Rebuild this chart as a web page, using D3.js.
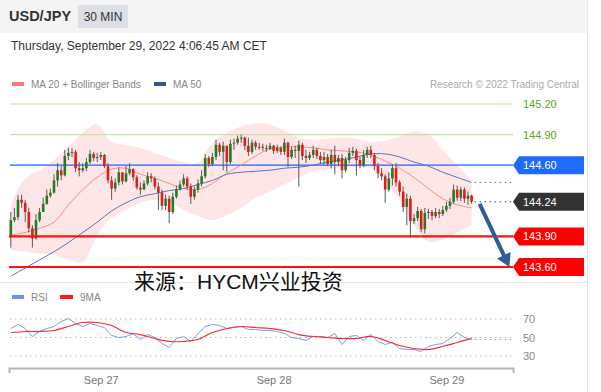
<!DOCTYPE html>
<html>
<head>
<meta charset="utf-8">
<script src="https://d3js.org/d3.v7.min.js"></script>
<style>
	body { margin: 0; background: #fff; font-family: "Liberation Sans", Arial, sans-serif; }
	svg text { font-family: "Liberation Sans", Arial, sans-serif; }
</style>
</head>
<body>
<div id="chart"></div>
<script>
	// ----- Data -----
	// 30 min candles, first one Sep 26 11:30, open of each = previous close
	const firstOpen = 143.89
	const closes = [144.06,144.09,144.26,144.23,144.14,143.98,143.88,144.06,144.14,144.22,
		144.30,144.33,144.45,144.55,144.50,144.69,144.72,144.73,144.57,144.55,
		144.57,144.63,144.71,144.67,144.68,144.70,144.59,144.45,144.37,144.43,
		144.53,144.44,144.52,144.56,144.48,144.38,144.36,144.42,144.49,144.47,
		144.39,144.33,144.20,144.27,144.14,144.29,144.36,144.41,144.47,144.39,
		144.29,144.36,144.42,144.49,144.67,144.61,144.68,144.80,144.73,144.79,
		144.63,144.81,144.82,144.86,144.87,144.79,144.73,144.82,144.78,144.78,
		144.77,144.76,144.79,144.74,144.77,144.73,144.82,144.68,144.75,144.74,
		144.80,144.69,144.67,144.70,144.75,144.69,144.65,144.68,144.61,144.70,
		144.63,144.67,144.55,144.65,144.72,144.74,144.65,144.60,144.70,144.75,
		144.70,144.59,144.52,144.49,144.36,144.47,144.57,144.43,144.34,144.19,
		144.27,144.05,144.08,144.15,143.97,144.13,144.14,144.10,144.14,144.12,
		144.16,144.20,144.24,144.36,144.28,144.36,144.27,144.30,144.24]
	const highs = [144.14,144.18,144.31,144.31,144.26,144.18,144.01,144.12,144.18,144.28,
		144.36,144.37,144.51,144.62,144.59,144.75,144.77,144.77,144.75,144.63,
		144.62,144.67,144.75,144.73,144.72,144.73,144.71,144.62,144.49,144.47,
		144.58,144.53,144.59,144.62,144.57,144.50,144.43,144.45,144.53,144.52,
		144.49,144.43,144.36,144.31,144.30,144.33,144.40,144.45,144.51,144.49,
		144.42,144.39,144.46,144.55,144.71,144.69,144.72,144.85,144.82,144.83,
		144.79,144.85,144.86,144.89,144.90,144.88,144.87,144.85,144.84,144.82,
		144.81,144.80,144.82,144.80,144.80,144.78,144.86,144.83,144.78,144.79,
		144.84,144.82,144.75,144.73,144.79,144.77,144.73,144.73,144.71,144.75,
		144.79,144.70,144.71,144.68,144.77,144.78,144.76,144.68,144.75,144.78,
		144.79,144.72,144.62,144.57,144.51,144.53,144.61,144.62,144.45,144.39,
		144.32,144.30,144.12,144.19,144.17,144.18,144.17,144.16,144.18,144.17,
		144.20,144.24,144.28,144.41,144.40,144.39,144.38,144.34,144.31]
	const lows = [143.79,144.04,144.06,144.18,144.04,143.94,143.79,143.87,144.04,144.14,
		144.21,144.28,144.32,144.39,144.45,144.49,144.65,144.68,144.53,144.49,
		144.53,144.54,144.61,144.64,144.63,144.65,144.57,144.42,144.26,144.34,
		144.40,144.41,144.43,144.50,144.45,144.36,144.31,144.36,144.40,144.43,
		144.36,144.16,144.16,144.16,144.03,144.12,144.27,144.35,144.39,144.36,
		144.22,144.26,144.33,144.39,144.47,144.58,144.59,144.65,144.69,144.55,
		144.53,144.61,144.75,144.80,144.82,144.75,144.69,144.71,144.75,144.75,
		144.74,144.73,144.75,144.71,144.72,144.70,144.70,144.58,144.66,144.67,
		144.39,144.65,144.62,144.65,144.67,144.66,144.61,144.60,144.59,144.57,
		144.51,144.59,144.47,144.53,144.62,144.69,144.50,144.57,144.58,144.67,
		144.67,144.55,144.47,144.45,144.23,144.34,144.40,144.39,144.30,144.14,
		144.01,143.89,144.02,144.05,143.94,143.93,144.07,144.06,144.08,144.08,
		144.10,144.14,144.17,144.22,144.25,144.25,144.23,144.21,144.22]

	// indicators, one value every 4 candles
	const ma20 = [143.91,143.94,143.98,144.04,144.21,144.36,144.48,144.56,144.57,144.51,
		144.47,144.42,144.37,144.36,144.42,144.52,144.60,144.69,144.76,144.78,
		144.78,144.77,144.75,144.74,144.73,144.70,144.64,144.57,144.48,144.37,
		144.27,144.21,144.18]
	const bbUpper = [144.21,144.47,144.55,144.65,144.78,144.92,145.00,144.83,144.80,144.77,
		144.72,144.67,144.63,144.62,144.82,144.92,144.98,145.01,145.00,144.94,
		144.87,144.85,144.86,144.87,144.86,144.83,144.84,144.88,144.93,144.90,
		144.75,144.60,144.45]
	const bbLower = [143.77,143.75,143.73,143.72,143.67,143.65,143.91,144.08,144.16,144.23,
		144.26,144.23,144.16,144.10,144.06,144.11,144.18,144.28,144.34,144.41,
		144.48,144.54,144.56,144.57,144.58,144.57,144.45,144.26,144.01,143.85,
		143.87,143.94,144.01]
	const ma50 = [143.51,143.59,143.67,143.75,143.84,143.94,144.04,144.15,144.23,144.29,
		144.32,144.35,144.37,144.41,144.45,144.51,144.53,144.54,144.55,144.57,
		144.58,144.60,144.63,144.65,144.68,144.71,144.71,144.68,144.63,144.59,
		144.53,144.48,144.43]

	// RSI one value every 2 candles, its 9MA every 4 candles
	const rsi = [59.7,64.1,59.7,51.1,56.5,59.7,61.9,67.3,70.5,65.1,
		61.9,65.1,63.0,60.8,52.2,50.0,51.1,54.3,47.8,53.2,
		50.0,43.5,39.2,48.9,51.1,45.7,54.3,61.9,64.1,63.0,
		59.7,60.8,61.9,58.6,58.6,57.6,57.6,56.5,54.3,50.0,
		48.9,46.8,51.1,51.1,50.0,54.3,42.4,51.1,52.2,46.8,
		53.2,45.7,42.4,44.6,38.1,37.0,37.0,34.9,40.3,42.4,
		43.5,48.9,55.4,50.0,47.8]
	const rsiMa = [55.4,56.5,56.5,57.6,61.9,66.2,66.2,63.0,55.4,53.2,
		48.9,45.7,45.7,47.8,55.4,59.7,61.9,60.8,59.7,57.6,
		53.2,51.1,50.0,48.9,48.9,51.1,46.8,41.4,38.1,37.0,
		40.3,44.6,48.9]

	const supportLevels = [145.20, 144.90]
	const pivotLevel = 144.60
	const lastPrice = 144.24
	const targetLevels = [143.90, 143.60]
	const rsiLevels = [70, 50, 30]
	const dayTicks = [new Date(2022, 8, 27), new Date(2022, 8, 28), new Date(2022, 8, 29)]

	const start = new Date(2022, 8, 26, 11, 30)
	const halfHour = 30 * 60 * 1000
	const t = i => new Date(start.getTime() + i * halfHour)

	const candles = closes.map((c, i) => ({
		time: t(i),
		open: i === 0 ? firstOpen : closes[i - 1],
		close: c, high: highs[i], low: lows[i]
	}))

	// ----- Layout -----
	const W = 601, H = 392

	const svg = d3.select("#chart").append("svg")
		.attr("width", W).attr("height", H)

	const x = d3.scaleTime()
		.domain([new Date(2022, 8, 26, 11, 15), new Date(2022, 8, 29, 9, 15)])
		.range([9, 513])
	const y = d3.scaleLinear().domain([143.60, 145.20]).range([267, 104])
	const yr = d3.scaleLinear().domain([30, 70]).range([356, 319])

	// header
	svg.append("rect").attr("x", 0).attr("y", 0).attr("width", 587).attr("height", 33).attr("fill", "#f4f4f4")
	svg.append("line").attr("x1", 587.5).attr("x2", 587.5).attr("y1", 0).attr("y2", H).attr("stroke", "#e6e6e6")
	svg.append("text").attr("x", 9).attr("y", 21).attr("font-size", 14.5).attr("font-weight", "bold")
		.attr("fill", "#333").text("USD/JPY")
	svg.append("rect").attr("x", 78).attr("y", 5).attr("width", 50).attr("height", 23).attr("fill", "#dcdfe6")
	svg.append("text").attr("x", 103).attr("y", 21).attr("font-size", 12).attr("text-anchor", "middle")
		.attr("fill", "#333").text("30 MIN")
	svg.append("text").attr("x", 11).attr("y", 50).attr("font-size", 12).attr("fill", "#333")
		.text("Thursday, September 29, 2022 4:06:45 AM CET")

	// legend
	svg.append("rect").attr("x", 12).attr("y", 82).attr("width", 12).attr("height", 4).attr("fill", "#f77b7b")
	svg.append("text").attr("x", 31).attr("y", 88).attr("font-size", 10).attr("fill", "#888").text("MA 20 + Bollinger Bands")
	svg.append("rect").attr("x", 154).attr("y", 82).attr("width", 12).attr("height", 4).attr("fill", "#2f5597")
	svg.append("text").attr("x", 173).attr("y", 88).attr("font-size", 10).attr("fill", "#888").text("MA 50")
	svg.append("text").attr("x", 579).attr("y", 88).attr("font-size", 10).attr("fill", "#aaa")
		.attr("text-anchor", "end").text("Research \u00a9 2022 Trading Central")

	// Bollinger band
	const band = bbUpper.map((u, j) => ({ time: t(j * 4), up: u, lo: bbLower[j] }))
	svg.append("path").datum(band)
		.attr("fill", "#ffe6e6")
		.attr("d", d3.area().curve(d3.curveCatmullRom)
			.x(d => x(d.time)).y0(d => y(d.lo)).y1(d => y(d.up)))

	// green levels
	svg.selectAll(".lvl").data(supportLevels).join("line")
		.attr("x1", 10).attr("x2", 513).attr("y1", d => y(d)).attr("y2", d => y(d))
		.attr("stroke", "#c2e2ac").attr("stroke-width", 1.2)
	svg.selectAll(".lvlt").data(supportLevels).join("text")
		.attr("x", 523).attr("y", d => y(d) + 4).attr("font-size", 11).attr("fill", "#5aa51e")
		.text(d => d.toFixed(2))

	// pivot line
	svg.append("line").attr("x1", 10).attr("x2", 513).attr("y1", y(pivotLevel)).attr("y2", y(pivotLevel))
		.attr("stroke", "#1a63ff").attr("stroke-width", 1.2)

	// moving averages
	const line = d3.line().curve(d3.curveCatmullRom).x(d => x(d.time)).y(d => y(d.v))
	const ma20pts = ma20.map((v, j) => ({ time: t(j * 4), v }))
	const ma50pts = ma50.map((v, j) => ({ time: t(j * 4), v }))
	svg.append("path").datum(ma20pts).attr("fill", "none").attr("stroke", "#ff8a8a").attr("stroke-width", 1).attr("d", line)
	svg.append("path").datum(ma50pts).attr("fill", "none").attr("stroke", "#5677b8").attr("stroke-width", 1).attr("d", line)
	const last50 = ma50pts[ma50pts.length - 1]
	svg.append("line").attr("x1", x(last50.time) + 3).attr("x2", 513)
		.attr("y1", y(last50.v)).attr("y2", y(last50.v))
		.attr("stroke", "#5677b8").attr("stroke-dasharray", "1.5,3.5")

	// candles
	const g = svg.append("g")
	g.selectAll(".wick").data(candles).join("line")
		.attr("x1", d => x(d.time)).attr("x2", d => x(d.time))
		.attr("y1", d => y(d.high)).attr("y2", d => y(d.low))
		.attr("stroke", "#5a5a5a").attr("stroke-width", 1)
	g.selectAll(".body").data(candles).join("rect")
		.attr("x", d => x(d.time) - 1.3)
		.attr("width", 2.6)
		.attr("y", d => y(Math.max(d.open, d.close)))
		.attr("height", d => Math.max(1, Math.abs(y(d.open) - y(d.close))))
		.attr("fill", d => d.close >= d.open ? "#237a23" : "#e31b1b")

	// last price dotted line
	const lastC = candles[candles.length - 1]
	svg.append("line").attr("x1", x(lastC.time) + 3).attr("x2", 513)
		.attr("y1", y(lastPrice)).attr("y2", y(lastPrice))
		.attr("stroke", "#444").attr("stroke-dasharray", "1.5,3.5")

	// red target lines
	svg.selectAll(".tgt").data(targetLevels).join("line")
		.attr("x1", 9).attr("x2", 513).attr("y1", d => y(d)).attr("y2", d => y(d))
		.attr("stroke", "#ff1010").attr("stroke-width", 2.2)

	// price tags
	const tags = [
		{ v: pivotLevel, c: "#1f6bff" },
		{ v: lastPrice, c: "#333333" },
		{ v: targetLevels[0], c: "#ff0000" },
		{ v: targetLevels[1], c: "#ff0000" }
	]
	const tag = svg.selectAll(".tag").data(tags).join("g")
		.attr("transform", d => "translate(513," + y(d.v) + ")")
	tag.append("path").attr("d", "M0,0L6,-9H71V9H6Z").attr("fill", d => d.c)
	tag.append("text").attr("x", 10).attr("y", 4).attr("font-size", 11).attr("fill", "#fff")
		.text(d => d.v.toFixed(2))

	// forecast arrow
	const ax0 = x(lastC.time) + 8, ay0 = y(lastPrice) + 2
	const ax1 = x(new Date(2022, 8, 29, 8, 45)), ay1 = y(targetLevels[1])
	const dx = ax1 - ax0, dy = ay1 - ay0, len = Math.hypot(dx, dy)
	const ux = dx / len, uy = dy / len
	const bx = ax1 - 13 * ux, by = ay1 - 13 * uy
	svg.append("line").attr("x1", ax0).attr("y1", ay0).attr("x2", bx + ux).attr("y2", by + uy)
		.attr("stroke", "#2f5e96").attr("stroke-width", 4)
	svg.append("path")
		.attr("d", "M" + ax1 + "," + ay1 + "L" + (bx - 7.5 * uy) + "," + (by + 7.5 * ux) +
			"L" + (bx + 7.5 * uy) + "," + (by - 7.5 * ux) + "Z")
		.attr("fill", "#2f5e96")

	// panel separator
	svg.append("line").attr("x1", 0).attr("x2", 587).attr("y1", 282.5).attr("y2", 282.5).attr("stroke", "#e6e6e6")

	// source text
	svg.append("text").attr("x", 134).attr("y", 289)
		.style("font-family", "'Liberation Sans', 'Noto Sans CJK SC', sans-serif").attr("font-size", 21).attr("fill", "#111")
		.text("来源：HYCM兴业投资")

	// RSI legend
	svg.append("rect").attr("x", 12).attr("y", 295).attr("width", 12).attr("height", 4).attr("fill", "#6f8fef")
	svg.append("text").attr("x", 31).attr("y", 301).attr("font-size", 10).attr("fill", "#888").text("RSI")
	svg.append("rect").attr("x", 60).attr("y", 295).attr("width", 13).attr("height", 4).attr("fill", "#ff1a1a")
	svg.append("text").attr("x", 80).attr("y", 301).attr("font-size", 10).attr("fill", "#888").text("9MA")

	// RSI grid
	svg.selectAll(".rl").data(rsiLevels).join("line")
		.attr("x1", 10).attr("x2", 513).attr("y1", d => yr(d)).attr("y2", d => yr(d))
		.attr("stroke", "#b8b8b8").attr("stroke-dasharray", "1.5,3.5")
	svg.selectAll(".rt").data(rsiLevels).join("text")
		.attr("x", 523).attr("y", d => yr(d) + 4).attr("font-size", 11).attr("fill", "#888")
		.text(d => d)

	// RSI lines
	const rline = d3.line().x(d => x(d.time)).y(d => yr(d.v))
	const rsiPts = rsi.map((v, k) => ({ time: t(k * 2), v }))
	const rsiMaPts = rsiMa.map((v, j) => ({ time: t(j * 4), v }))
	svg.append("path").datum(rsiPts).attr("fill", "none").attr("stroke", "#7b9bf2").attr("stroke-width", 1).attr("d", rline)
	svg.append("path").datum(rsiMaPts).attr("fill", "none").attr("stroke", "#ff2a2a").attr("stroke-width", 1.2)
		.attr("d", rline.curve(d3.curveCatmullRom))
	const lastR = rsiPts[rsiPts.length - 1]
	svg.append("line").attr("x1", x(lastR.time) + 3).attr("x2", 513)
		.attr("y1", yr(lastR.v)).attr("y2", yr(lastR.v))
		.attr("stroke", "#7b9bf2").attr("stroke-dasharray", "1.5,3.5")

	// x axis
	const axis = svg.append("g").attr("transform", "translate(0,368)")
		.call(d3.axisBottom(x).tickValues(dayTicks).tickSizeInner(0).tickSizeOuter(5).tickPadding(8)
			.tickFormat(d3.timeFormat("Sep %d")))
	axis.select(".domain").attr("stroke", "#b5b5b5").attr("stroke-width", 2)
	axis.selectAll("text").attr("font-size", 11).attr("fill", "#777")
		.style("font-family", "'Liberation Sans', Arial, sans-serif")
</script>
</body>
</html>
